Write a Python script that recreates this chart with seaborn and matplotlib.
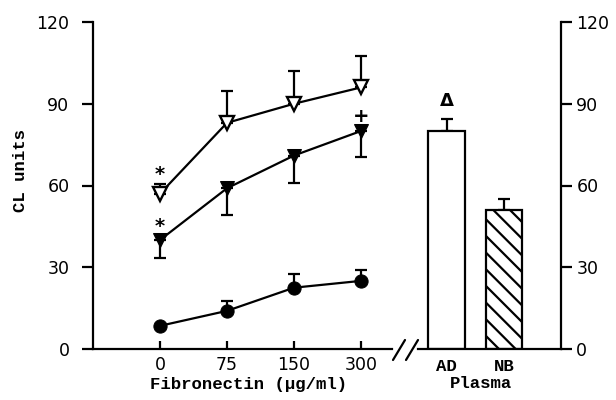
import numpy as np
import matplotlib
matplotlib.use("Agg")
import matplotlib.pyplot as plt
from matplotlib.lines import Line2D
import seaborn as sns

# ---- data ----
conc_labels = ["0", "75", "150", "300"]
open_tri = [57, 83, 90, 96]
open_tri_err = [3.5, 11.5, 12, 11.5]
filled_tri = [40, 59, 71, 80]
filled_tri_err = [6.5, 10, 10, 9.5]
circles = [8.5, 14, 22.5, 25]
circles_err = [0, 3.5, 5, 4]
plasma = ["AD", "NB"]
plasma_vals = [80, 51]
plasma_err = [4.5, 4]
y_ticks = [0, 30, 60, 90, 120]

sns.set_style("ticks")
plt.rcParams["font.family"] = ["DejaVu Sans"]
plt.rcParams["hatch.linewidth"] = 1.6
for k in ["text.color", "axes.labelcolor", "xtick.color", "ytick.color", "axes.edgecolor"]:
    plt.rcParams[k] = "black"

W, H = 616, 400
fig = plt.figure(figsize=(W / 100, H / 100), dpi=100)
fig.patch.set_facecolor("white")

def px(x, y):
    return x / W, (H - y) / H

label_font = dict(family="Liberation Mono", weight="bold", fontsize=12.5, color="black")
tick_fs = 12.5
lw = 1.6

ax1 = fig.add_axes([93 / W, 51 / H, 299.5 / W, 327 / H])
ax2 = fig.add_axes([418 / W, 51 / H, 143 / W, 327 / H])
for ax in (ax1, ax2):
    ax.set_facecolor("none")

xpos = np.arange(len(conc_labels))

# error bars first (under markers)
ax1.errorbar(xpos, open_tri, yerr=[np.zeros(4), open_tri_err], fmt="none",
             ecolor="k", elinewidth=lw, capsize=4, capthick=lw, zorder=2)
ax1.errorbar(xpos, filled_tri, yerr=[filled_tri_err, np.zeros(4)], fmt="none",
             ecolor="k", elinewidth=lw, capsize=4, capthick=lw, zorder=2)
ax1.errorbar(xpos[1:], circles[1:], yerr=[np.zeros(3), circles_err[1:]], fmt="none",
             ecolor="k", elinewidth=lw, capsize=4, capthick=lw, zorder=2)

sns.lineplot(x=xpos, y=open_tri, ax=ax1, color="k", marker="v", markersize=10,
             markerfacecolor="white", markeredgecolor="k", markeredgewidth=1.7,
             linewidth=lw, zorder=3)
sns.lineplot(x=xpos, y=filled_tri, ax=ax1, color="k", marker="v", markersize=10,
             markerfacecolor="k", markeredgecolor="k", linewidth=lw, zorder=3)
sns.lineplot(x=xpos, y=circles, ax=ax1, color="k", marker="o", markersize=9.5,
             markerfacecolor="k", markeredgecolor="k", linewidth=lw, zorder=3)

ax1.set_xlim(-1, 3.47)
ax1.set_ylim(0, 120)
ax1.set_xticks(xpos)
ax1.set_xticklabels(conc_labels)
ax1.set_yticks(y_ticks)
ax1.set_yticklabels([str(v) for v in y_ticks])
ax1.tick_params(axis="y", direction="out", length=8, width=lw, pad=9,
                labelsize=tick_fs, left=True, right=False, colors="black")
ax1.tick_params(axis="x", direction="in", length=6, width=lw, pad=5,
                labelsize=tick_fs, colors="black")
ax1.spines["top"].set_visible(False)
ax1.spines["right"].set_visible(False)
ax1.spines["left"].set_linewidth(lw)
ax1.spines["bottom"].set_linewidth(lw)
ax1.set_xlabel("")
ax1.set_ylabel("")

# annotations
ax1.text(0, 64, "*", ha="center", va="center", fontsize=14, fontweight="bold", color="black")
ax1.text(0, 45, "*", ha="center", va="center", fontsize=14, fontweight="bold", color="black")
ax1.text(3, 85.5, "+", ha="center", va="center", fontsize=14, fontweight="bold", color="black")

# bars
sns.barplot(x=plasma, y=plasma_vals, ax=ax2, color="white", edgecolor="k",
            linewidth=lw, width=0.64, saturation=1)
ax2.patches[1].set_hatch("\\\\")
ax2.errorbar([0, 1], plasma_vals, yerr=[np.zeros(2), plasma_err], fmt="none",
             ecolor="k", elinewidth=lw, capsize=4, capthick=lw, zorder=1)
for p in ax2.patches:
    p.set_zorder(2)
ax2.text(0, 91, "\u0394", ha="center", va="center", fontsize=13, fontweight="bold", color="black")

ax2.set_xlim(-0.496, 1.991)
ax2.set_ylim(0, 120)
ax2.set_yticks(y_ticks)
ax2.set_yticklabels([str(v) for v in y_ticks])
ax2.yaxis.tick_right()
ax2.tick_params(axis="y", direction="out", length=8, width=lw, pad=3,
                labelsize=tick_fs, left=False, right=True, colors="black")
ax2.tick_params(axis="x", length=0, pad=7, colors="black")
for t in ax2.get_xticklabels():
    t.set_fontfamily("Liberation Mono")
    t.set_fontweight("bold")
    t.set_fontsize(12.5)
ax2.spines["top"].set_visible(False)
ax2.spines["left"].set_visible(False)
ax2.spines["right"].set_linewidth(lw)
ax2.spines["bottom"].set_linewidth(lw)
ax2.set_xlabel("")
ax2.set_ylabel("")

# axis break marks
for x0, x1 in [(393, 405), (406, 418)]:
    a = px(x0, 360)
    b = px(x1, 340)
    fig.add_artist(Line2D([a[0], b[0]], [a[1], b[1]], color="k", lw=lw))

# axis titles
fig.text(*px(249, 384), "Fibronectin (\u03bcg/ml)", ha="center", va="center", **label_font)
fig.text(*px(481, 384), "Plasma", ha="center", va="center", **label_font)
fig.text(*px(21, 171), "CL units", ha="center", va="center", rotation=90, **label_font)

fig.savefig("out.png", dpi=100, facecolor="white")
